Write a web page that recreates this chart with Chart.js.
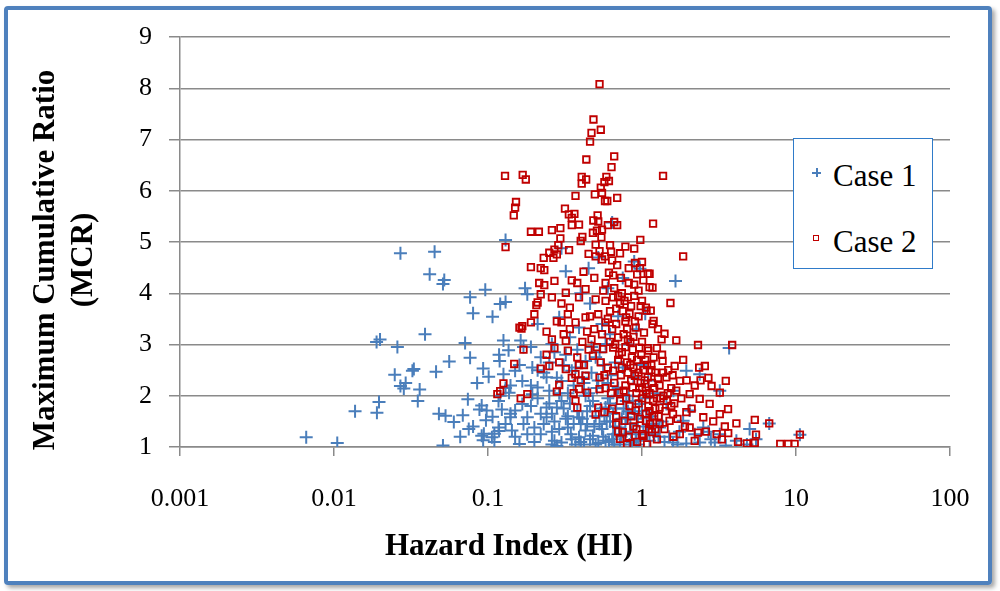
<!DOCTYPE html>
<html>
<head>
<meta charset="utf-8">
<script src="https://cdn.jsdelivr.net/npm/chart.js@4.4.0/dist/chart.umd.min.js"></script>
<style>
html, body { margin: 0; padding: 0; background: #fff; }
#wrap { position: relative; width: 1000px; height: 591px; overflow: hidden; }
#frame { position: absolute; left: 4px; top: 6px; width: 980px; height: 571px; border: 4px solid #4F81BD; border-radius: 4px; box-shadow: 3px 3px 4px rgba(0,0,0,0.35); }
#chart-area { position: absolute; left: 0; top: 0; }
.ttl { position: absolute; font-family: "Liberation Serif", serif; font-weight: bold; font-size: 31px; color: #000; white-space: nowrap; }
#xt { left: 385px; top: 529px; line-height: 31px; }
#yt { left: -146px; top: 221px; width: 420px; height: 78px; line-height: 38px; text-align: center; transform: rotate(-90deg); }
#legend { position: absolute; left: 793px; top: 138px; width: 138px; height: 129px; border: 1.5px solid #2F7BC9; background: #fff; font-family: "Liberation Serif", serif; font-size: 31px; color: #000; }
#legend .txt { position: absolute; left: 39px; line-height: 31px; }
.mk-cross { position: absolute; width: 9px; height: 9px; }
.mk-cross:before { content: ""; position: absolute; left: 0; top: 4px; width: 9px; height: 1.5px; background: #4A7EBB; }
.mk-cross:after { content: ""; position: absolute; left: 4px; top: 0; width: 1.5px; height: 9px; background: #4A7EBB; }
.mk-sq { position: absolute; width: 4px; height: 4px; border: 1.5px solid #C00000; }
</style>
</head>
<body>
<div id="wrap">
  <div id="frame"></div>
  <canvas id="chart-area" width="1000" height="591"></canvas>
  <div class="ttl" id="xt">Hazard Index (HI)</div>
  <div class="ttl" id="yt">Maximum Cumulative Ratio<br>(MCR)</div>
  <div id="legend">
    <div class="mk-cross" style="left:18px;top:29px;"></div>
    <div class="txt" style="top:21px;">Case 1</div>
    <div class="mk-sq" style="left:19px;top:96px;"></div>
    <div class="txt" style="top:87px;">Case 2</div>
  </div>
</div>
<script>
// x 軸刻度 (對數)
var hiTicks = [0.001, 0.01, 0.1, 1, 10, 100];
var hiLabels = ['0.001', '0.01', '0.1', '1', '10', '100'];
var seriesNames = ['Case 1', 'Case 2'];

// Case 1: [HI, MCR]
var case1 = [
  [0.0066,1.19],[0.0105,1.08],[0.0137,1.70],[0.019,1.67],[0.0196,1.88],[0.0189,3.05],[0.0199,3.10],[0.0258,2.95],
  [0.027,4.78],[0.045,4.81],[0.0418,4.37],[0.052,4.26],[0.051,4.18],[0.039,3.20],[0.0248,2.41],[0.0292,2.25],
  [0.0284,2.14],[0.027,2.19],[0.0323,2.49],[0.033,2.52],[0.036,2.12],[0.035,1.90],[0.046,2.47],[0.056,2.67],
  [0.071,3.03],[0.0765,2.74],[0.0765,3.92],[0.096,4.07],[0.080,3.61],[0.107,3.54],[0.12,3.79],[0.13,3.83],
  [0.13,5.04],[0.126,3.08],[0.136,2.89],[0.118,2.80],[0.093,2.53],[0.048,1.65],[0.053,1.61],[0.060,1.49],
  [0.0686,1.62],[0.074,1.93],[0.051,1.03],[0.088,1.73],[0.097,1.52],[0.093,1.13],[0.094,1.26],[0.11,1.26],
  [0.107,1.59],[0.123,1.73],[0.118,1.31],[0.101,2.37],[0.126,2.42],[0.14,1.65],
  [0.30,4.88],[0.32,4.43],[0.45,4.49],[0.64,5.38],[0.89,4.62],[1.65,4.24],[0.174,4.10],
  [0.18,3.98],[0.163,3.08],[0.119,2.68],[0.15,2.49],[0.194,2.55],[0.22,2.75],[0.26,3.01],[0.34,3.14],
  [0.091,1.81],[0.098,1.71],[0.117,1.38],[0.13,1.45],[0.14,1.58],[0.15,1.71],[0.167,1.84],[0.194,2.03],
  [0.21,2.16],[0.18,1.58],[0.20,1.38],[0.22,1.25],[0.24,1.58],[0.28,1.77],[0.30,1.90],[0.33,1.38],
  [0.345,1.25],[0.39,1.58],[0.43,1.32],[0.48,1.22],[0.53,1.45],[0.58,1.12],[0.65,1.25],[0.71,1.38],
  [0.79,1.58],[0.16,1.06],[0.27,1.12],[0.24,2.36],[0.30,2.29],[0.35,2.49],[0.43,2.68],[0.50,2.75],
  [0.58,3.01],[0.39,3.33],[0.29,3.53],[0.091,1.22],[0.106,1.19],[0.143,1.32],[0.18,1.25],[0.30,1.09],
  [0.39,1.19],[0.92,1.12],[0.167,2.29],[0.137,2.06],[0.117,1.90],[0.24,1.77],[0.48,1.90],[0.58,1.77],
  [0.79,1.90],[0.96,1.84],
  [3.68,2.93],[1.94,2.49],[2.37,2.42],[3.2,2.10],[5.0,1.35],[6.7,1.46],[10.6,1.24],[1.59,1.09],
  [1.94,1.07],[2.37,1.09],[2.97,1.09],[4.1,1.12],[3.2,1.25],[2.5,1.38],[1.85,1.51],[1.30,1.38],
  [1.12,1.12],[1.07,1.58],[1.44,1.84],[2.04,1.71],
  [0.16,2.60],[0.19,2.20],[0.21,1.95],[0.23,2.45],[0.25,2.10],[0.26,1.65],[0.27,2.85],[0.29,2.05],
  [0.31,2.60],[0.32,1.55],[0.34,1.85],[0.36,2.20],[0.37,1.05],[0.38,2.90],[0.40,1.45],[0.41,2.35],
  [0.44,1.70],[0.45,2.05],[0.46,1.15],[0.47,2.95],[0.50,1.60],[0.52,2.30],[0.55,1.35],[0.56,2.60],
  [0.60,1.95],[0.62,1.50],[0.63,2.40],[0.66,1.05],[0.68,1.75],[0.70,2.15],[0.73,1.20],[0.75,2.55],
  [0.78,1.45],[0.82,2.00],[0.85,1.30],[0.88,2.35],[0.90,1.65],[0.95,1.05],[0.98,2.60],[1.02,1.40],
  [1.05,1.95],[1.10,2.30],[1.15,1.60],[1.20,1.25],[1.25,2.05],[1.35,1.50],[1.50,1.20],[1.60,2.10],
  [1.75,1.30],[0.20,1.10],[0.23,1.45],[0.26,1.30],[0.28,1.02],[0.33,1.60],[0.35,1.15],[0.42,1.05],
  [0.44,1.45],[0.52,1.08],[0.57,1.60],[0.61,1.10],[0.67,1.40],[0.72,1.05],[0.76,1.75],[0.86,1.10],
  [0.55,3.40],[0.62,3.20],[0.70,3.55],[0.46,3.80],[0.82,3.00],[0.92,3.30],[1.05,3.60],[0.60,4.10],
  [0.75,4.30],[0.97,4.48],[0.52,4.70],[0.40,4.00],[0.21,3.40],[0.17,2.95],[0.14,2.20],[0.12,2.00],
  [0.11,1.10],[0.08,1.40],[0.066,1.20],[0.085,2.25],[0.075,1.35],[3.5,1.03],[4.8,1.05],[2.7,1.30],[5.5,1.15],
  [0.22,1.65],[0.25,1.85],[0.27,1.50],[0.29,1.35],[0.31,1.75],[0.33,2.05],[0.36,1.45],[0.38,1.70],
  [0.41,1.55],[0.43,2.00],[0.46,1.80],[0.49,1.40],[0.51,2.15],[0.54,1.75],[0.56,1.20],[0.59,1.50],
  [0.62,1.85],[0.65,1.65],[0.69,2.00],[0.74,1.55],[0.77,1.25],[0.81,1.70],[0.84,1.45],[0.87,1.90],
  [0.91,1.25],[0.94,1.55],[1.00,1.70],[1.08,1.25],[1.18,1.45],[1.28,1.20],[0.19,1.80],[0.17,1.45],
  [0.15,1.20],[0.13,2.15],[0.21,2.50],[0.19,2.95],[0.25,2.65],[0.28,2.35],[0.32,2.80],[0.37,2.55],
  [0.42,2.25],[0.47,2.45],[0.53,2.85],[0.60,2.25],[0.67,2.65],[0.26,1.05],[0.40,1.10],[0.50,1.05],
  [0.64,1.15],[0.83,1.05],[1.40,1.10],[1.70,1.05],[2.20,1.25],[2.80,1.15]
];

// Case 2: [HI, MCR]
var case2 = [
  [0.13,4.90],[0.148,2.62],[0.126,2.24],[0.12,2.09],[0.115,2.03],[0.16,3.33],
  [0.53,8.08],[0.484,7.39],[0.47,7.13],[0.54,7.19],[0.46,6.96],[0.435,6.61],[0.66,6.67],[0.634,6.46],
  [0.129,6.29],[0.168,6.31],[0.176,6.22],[1.37,6.29],[0.406,6.27],[0.434,6.22],[0.406,6.14],[0.587,6.27],
  [0.61,6.19],[0.57,6.17],[0.54,6.06],[0.494,5.93],[0.55,5.96],[0.37,5.90],[0.575,5.80],[0.595,5.80],
  [0.69,5.86],[0.152,5.78],[0.150,5.67],[0.147,5.52],[0.316,5.65],[0.335,5.54],[0.364,5.55],[0.35,5.47],
  [0.515,5.52],[0.483,5.42],[0.66,5.39],[0.69,5.33],[0.39,5.34],[0.35,5.33],[0.60,5.33],[0.52,5.40],
  [1.18,5.36],[0.19,5.20],[0.214,5.20],[0.26,5.23],[0.295,5.27],[0.295,5.07],[0.40,5.02],[0.41,5.10],
  [0.48,5.18],[0.51,5.22],[0.545,5.09],[0.55,5.24],[0.50,4.95],[0.62,4.94],[0.78,4.91],[0.89,4.87],
  [0.975,5.04],[1.85,4.72],[0.286,4.94],[0.27,4.85],[0.25,4.79],[0.28,4.76],[0.266,4.69],[0.23,4.69],
  [0.336,4.84],[0.45,4.77],[0.53,4.82],[0.575,4.72],[0.64,4.64],[0.72,4.78],[0.63,4.81],[0.50,4.72],
  [0.55,4.66],[0.19,4.51],[0.22,4.49],[0.232,4.45],[0.417,4.42],[1.0,4.61],[0.90,4.59],[0.97,4.49],
  [1.09,4.38],[0.93,4.37],[0.82,4.49],[0.69,4.55],[0.61,4.40],[0.65,4.35],[0.73,4.30],[0.49,4.30],
  [0.58,4.20],[0.35,4.25],[0.38,4.20],[0.215,4.20],[0.232,4.16],[0.27,4.24],[1.12,4.12],[0.82,4.20],
  [0.89,4.17],
  [0.43,4.08],[0.32,4.01],[0.22,3.98],[0.21,3.82],[0.206,3.77],[0.26,3.92],[0.30,3.80],[0.34,3.72],
  [0.39,3.92],[0.50,3.88],[0.58,3.85],[0.65,3.92],[0.81,3.92],[0.89,3.95],[0.98,3.75],[1.06,3.72],
  [1.14,3.66],[0.20,3.59],[0.19,3.43],[0.167,3.36],[0.165,3.31],[0.24,3.25],[0.30,3.43],[0.33,3.59],
  [0.37,3.43],[0.43,3.53],[0.52,3.59],[0.58,3.43],[0.68,3.40],[0.79,3.53],[0.91,3.33],[1.03,3.23],
  [1.17,3.40],[0.70,3.14],[0.81,3.10],[0.32,3.07],[0.17,2.90],[0.27,2.93],[0.33,2.88],[0.38,2.75],
  [0.48,2.78],[0.56,2.91],[0.65,2.94],[0.96,2.94],[1.10,2.88],[0.22,2.53],[0.25,2.58],[0.32,2.52],
  [0.37,2.42],[0.43,2.39],[0.53,2.36],[0.65,2.49],[0.74,2.55],[0.90,2.39],[1.09,2.36],[0.18,2.03],
  [0.163,1.95],[0.29,2.21],[0.28,2.08],[0.39,2.13],[0.44,2.06],[0.53,2.13],[0.58,2.15],[0.71,2.06],
  [0.87,2.16],[1.06,2.10],[0.37,1.90],[0.38,1.77],[0.52,1.77],[0.50,1.63],[0.57,1.68],[0.68,1.44],
  [0.77,1.51],[0.75,1.29],[0.72,1.16],[0.91,1.71],[1.06,1.51],[1.11,1.35],[1.02,1.22],[1.16,1.29],
  [0.72,3.80],[0.75,3.65],[0.78,3.45],[0.80,3.30],[0.76,3.20],[0.84,3.05],[0.78,2.95],[0.74,2.85],
  [0.86,2.75],[0.80,2.65],[0.70,2.70],[0.88,2.55],[0.95,2.45],[0.85,2.30],[0.78,2.20],[0.66,2.25],
  [0.92,2.05],[1.00,1.95],[0.95,1.85],[0.83,1.80],[0.72,1.90],[0.64,1.75],[0.60,2.55],[0.62,3.05],
  [0.55,3.20],[0.47,3.10],[0.45,2.90],[0.42,2.60],[0.40,2.30],[0.36,2.05],[0.62,3.65],[0.68,3.70],
  [0.74,4.00],[0.85,3.75],[0.95,3.55],[0.88,3.15],[1.00,3.05],[1.05,2.70],[1.15,2.50],[0.98,2.25],
  [1.20,2.15],[1.25,1.95],[1.10,1.80],[1.20,1.60],[0.97,1.55],[0.88,1.40],[0.82,1.20],[0.93,1.10],
  [1.08,1.05],[1.30,1.45],
  [1.12,4.38],[1.17,4.11],[1.53,3.81],[1.0,3.85],[1.07,3.66],[1.19,3.46],[1.27,3.30],[1.40,3.21],
  [1.67,3.08],[1.34,3.10],[1.09,2.93],[1.25,2.93],[2.31,2.99],[3.85,2.99],[1.36,2.68],[1.85,2.70],
  [1.63,2.58],[2.35,2.55],[2.56,2.58],[2.40,2.30],[3.50,2.29],[1.44,2.36],[1.76,2.29],[2.83,2.19],
  [3.2,2.06],[1.67,2.10],[2.04,2.03],[2.37,1.94],[3.62,1.74],[2.75,1.84],[3.2,1.64],[2.5,1.58],
  [1.94,1.68],[1.59,1.64],[5.4,1.53],[6.7,1.46],[4.1,1.46],[3.45,1.40],[3.05,1.25],[3.63,1.27],
  [5.5,1.24],[10.6,1.24],[4.2,1.10],[4.8,1.07],[5.4,1.08],[7.9,1.06],[8.9,1.06],[9.8,1.06],
  [2.04,1.38],[2.31,1.28],[1.76,1.25],[1.51,1.51],[1.30,1.77],[1.18,1.90],[1.07,2.03],[1.0,2.16],
  [1.15,2.60],[1.22,2.45],[1.30,2.20],[1.38,2.00],[1.45,1.90],[1.55,2.15],[1.62,1.85],[1.70,1.55],
  [1.80,1.95],[1.90,1.40],[2.10,1.75],[2.20,2.20],[1.28,1.60],[1.40,1.35],[1.60,1.20],[2.20,1.12],
  [2.60,1.30],[2.90,1.50],[3.30,1.15],[1.35,2.80],[1.48,2.50],[2.70,2.35],[1.12,1.70],[1.25,1.15],[1.95,2.30],
  [0.60,3.50],[0.64,3.30],[0.67,3.00],[0.71,2.80],[0.73,2.40],[0.76,2.10],[0.79,1.95],[0.81,2.45],
  [0.84,2.60],[0.87,2.90],[0.90,3.45],[0.93,2.70],[0.96,2.15],[0.99,2.80],[1.02,2.50],[1.04,2.30],
  [1.08,2.60],[1.12,2.05],[1.16,2.25],[1.19,2.75],[1.22,1.75],[1.27,2.35],[1.32,1.95],[1.37,2.45],
  [1.42,1.70],[1.47,2.05],[1.55,1.80],[1.58,2.40],[0.63,2.05],[0.68,1.60],[0.57,2.40],[0.54,2.65],
  [0.51,2.95],[0.49,3.30],[0.46,3.55],[0.44,3.25],[0.41,3.05],[0.39,2.60],[0.35,2.35],[0.34,3.30],
  [0.31,3.20],[0.28,3.45],[0.26,3.10],[0.24,2.80],[0.29,2.65],[0.85,1.60],[0.92,1.35],[1.00,1.25],
  [1.06,1.65],[1.13,1.45],[1.22,1.35],[0.80,1.05],[0.70,1.30],[0.77,3.85],[0.83,3.60],[0.66,4.10],
  [0.70,3.95],[0.56,4.05],[0.95,4.05],[1.02,4.25]
];

function toXY(arr) {
	return arr.map(function(p) { return {x: p[0], y: p[1]}; });
}

var ctx = document.getElementById('chart-area');
var gridColor = '#8a8a8a';

var myChart = new Chart(ctx, {
	type: 'scatter',
	data: {
		datasets: [
			{
				label: seriesNames[0],
				data: toXY(case1),
				pointStyle: 'cross',
				radius: 6.5,
				borderColor: '#4A7EBB',
				backgroundColor: '#4A7EBB',
				borderWidth: 2,
				order: 2
			},
			{
				label: seriesNames[1],
				data: toXY(case2),
				pointStyle: 'rect',
				radius: 4.6,
				borderColor: '#C00000',
				backgroundColor: 'rgba(255,255,255,0)',
				borderWidth: 1.8,
				order: 1
			}
		]
	},
	options: {
		responsive: false,
		animation: false,
		devicePixelRatio: 1,
		layout: { padding: { left: 0, top: 37, right: 50, bottom: 0 } },
		plugins: { legend: { display: false }, tooltip: { enabled: false } },
		scales: {
			x: {
				type: 'logarithmic',
				min: 0.001,
				max: 100,
				afterBuildTicks: function(scale) {
					scale.ticks = hiTicks.map(function(v) { return {value: v}; });
				},
				afterFit: function(scale) { scale.height = 591 - 447; },
				ticks: {
					autoSkip: false,
					maxRotation: 0,
					padding: 28,
					color: '#000',
					font: { family: 'Liberation Serif', size: 26 },
					callback: function(value) {
						var i = hiTicks.indexOf(value);
						return i >= 0 ? hiLabels[i] : '';
					}
				},
				grid: { drawOnChartArea: false, drawTicks: true, tickLength: 9, color: gridColor, lineWidth: 1.5 },
				border: { color: gridColor, width: 1.5 }
			},
			y: {
				min: 1,
				max: 9,
				afterFit: function(scale) { scale.width = 180; },
				ticks: {
					stepSize: 1,
					padding: 17,
					color: '#000',
					font: { family: 'Liberation Serif', size: 26 }
				},
				grid: { color: gridColor, lineWidth: 1.5, tickLength: 11 },
				border: { color: gridColor, width: 1.5 }
			}
		}
	}
});
</script>
</body>
</html>
